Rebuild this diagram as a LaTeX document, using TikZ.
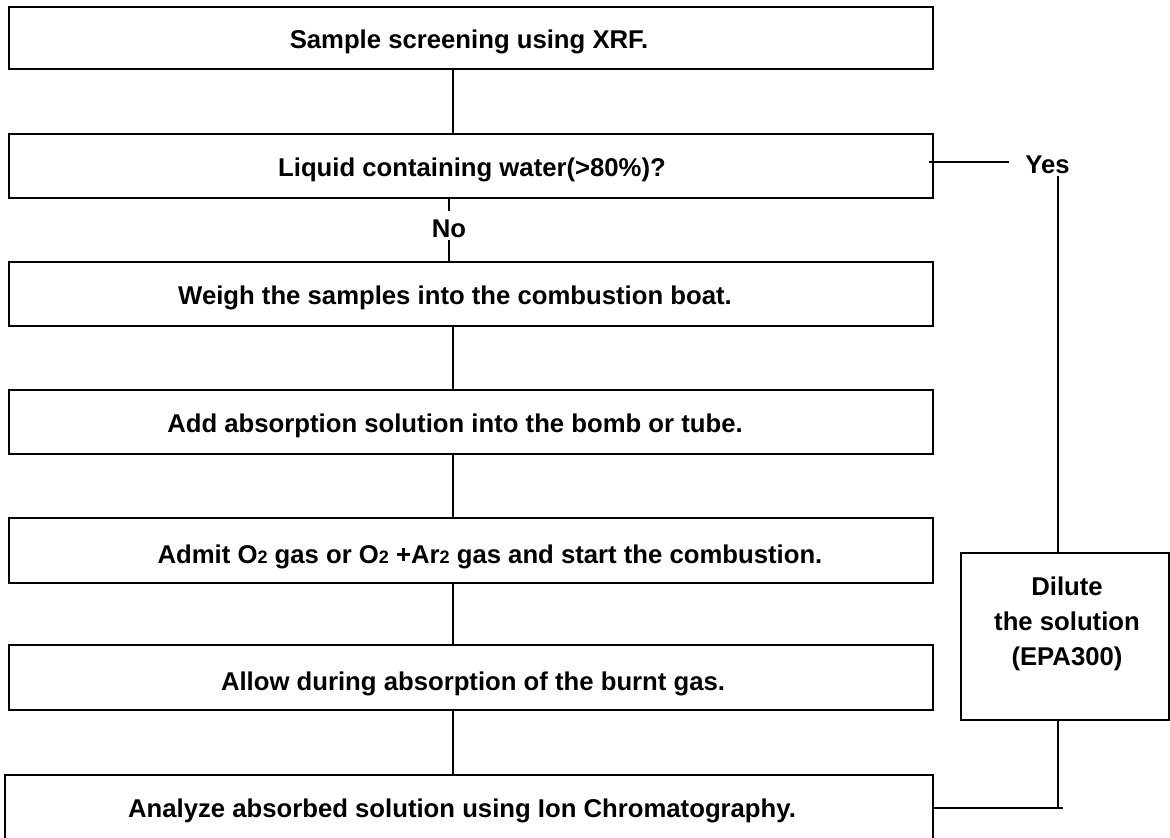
\documentclass[tikz,border=0pt]{standalone}
\usepackage{fontspec}
\setmainfont{Liberation Sans}
\newcommand\subtwo{{\fontsize{18}{18}\selectfont 2}}
\begin{document}
\begin{tikzpicture}[x=1pt,y=-1pt,
  box/.style={draw, line width=2.8pt, rectangle, inner sep=0pt},
  lbl/.style={font=\fontsize{25.7}{35}\selectfont\bfseries, inner sep=0pt, anchor=base},
  conn/.style={line width=2.2pt}]
\useasboundingbox (0,0) rectangle (1170,838);
\clip (0,0) rectangle (1170,838);
% boxes
\node[box, minimum width=924pt, minimum height=62pt] (b1) at (471,38) {};
\node[box, minimum width=924pt, minimum height=64pt] (b2) at (471,166) {};
\node[box, minimum width=924pt, minimum height=64pt] (b3) at (471,294) {};
\node[box, minimum width=924pt, minimum height=64pt] (b4) at (471,422) {};
\node[box, minimum width=924pt, minimum height=65pt] (b5) at (471,550.5) {};
\node[box, minimum width=924pt, minimum height=65pt] (b6) at (471,677.5) {};
\node[box, minimum width=928pt, minimum height=66pt] (b7) at (469,808) {};
\node[box, minimum width=208pt, minimum height=167pt] (dil) at (1065,636.5) {};
% texts
\node[lbl] (t1) at (469,48) {Sample screening using XRF.};
\node[lbl] (t2) at (472,176) {Liquid containing water(>80\%)?};
\node[lbl] (t3) at (455,304) {Weigh the samples into the combustion boat.};
\node[lbl] (t4) at (455,432) {Add absorption solution into the bomb or tube.};
\node[lbl] (t5) at (490,563) {Admit O\subtwo{} gas or O\subtwo{} +Ar\subtwo{} gas and start the combustion.};
\node[lbl] (t6) at (473,690) {Allow during absorption of the burnt gas.};
\node[lbl] (t7) at (462,817) {Analyze absorbed solution using Ion Chromatography.};
\node[lbl, anchor=center, align=center] (td) at (1067,624) {Dilute\\ the solution\\ (EPA300)};
% labels on connectors
\node[lbl, text height=26pt, text depth=3pt] (no) at (449,237) {No};
\node[lbl, text height=18.4pt, text depth=3pt, inner xsep=16pt] (yes) at (1047.5,173) {Yes};
% connectors
\coordinate (cx) at (453,0);
\coordinate (jx) at (1058,0);
\coordinate (yl) at ([yshift=3pt]yes.west);
\draw[conn] (b1.south -| cx) -- (b2.north -| cx);
\draw[conn] (b2.south -| no.north) -- (no.north);
\draw[conn] (no.south) -- (b3.north -| no.south);
\draw[conn] (b3.south -| cx) -- (b4.north -| cx);
\draw[conn] (b4.south -| cx) -- (b5.north -| cx);
\draw[conn] (b5.south -| cx) -- (b6.north -| cx);
\draw[conn] (b6.south -| cx) -- (b7.north -| cx);
\draw[conn] ([xshift=-5pt]b2.east |- yl) -- (yl);
\draw[conn] (yes.south -| jx) -- (dil.north -| jx);
\draw[conn] (dil.south -| jx) -- (b7.east -| jx);
\draw[conn] ([xshift=5pt]b7.east -| jx) -- (b7.east);
\end{tikzpicture}
\end{document}
